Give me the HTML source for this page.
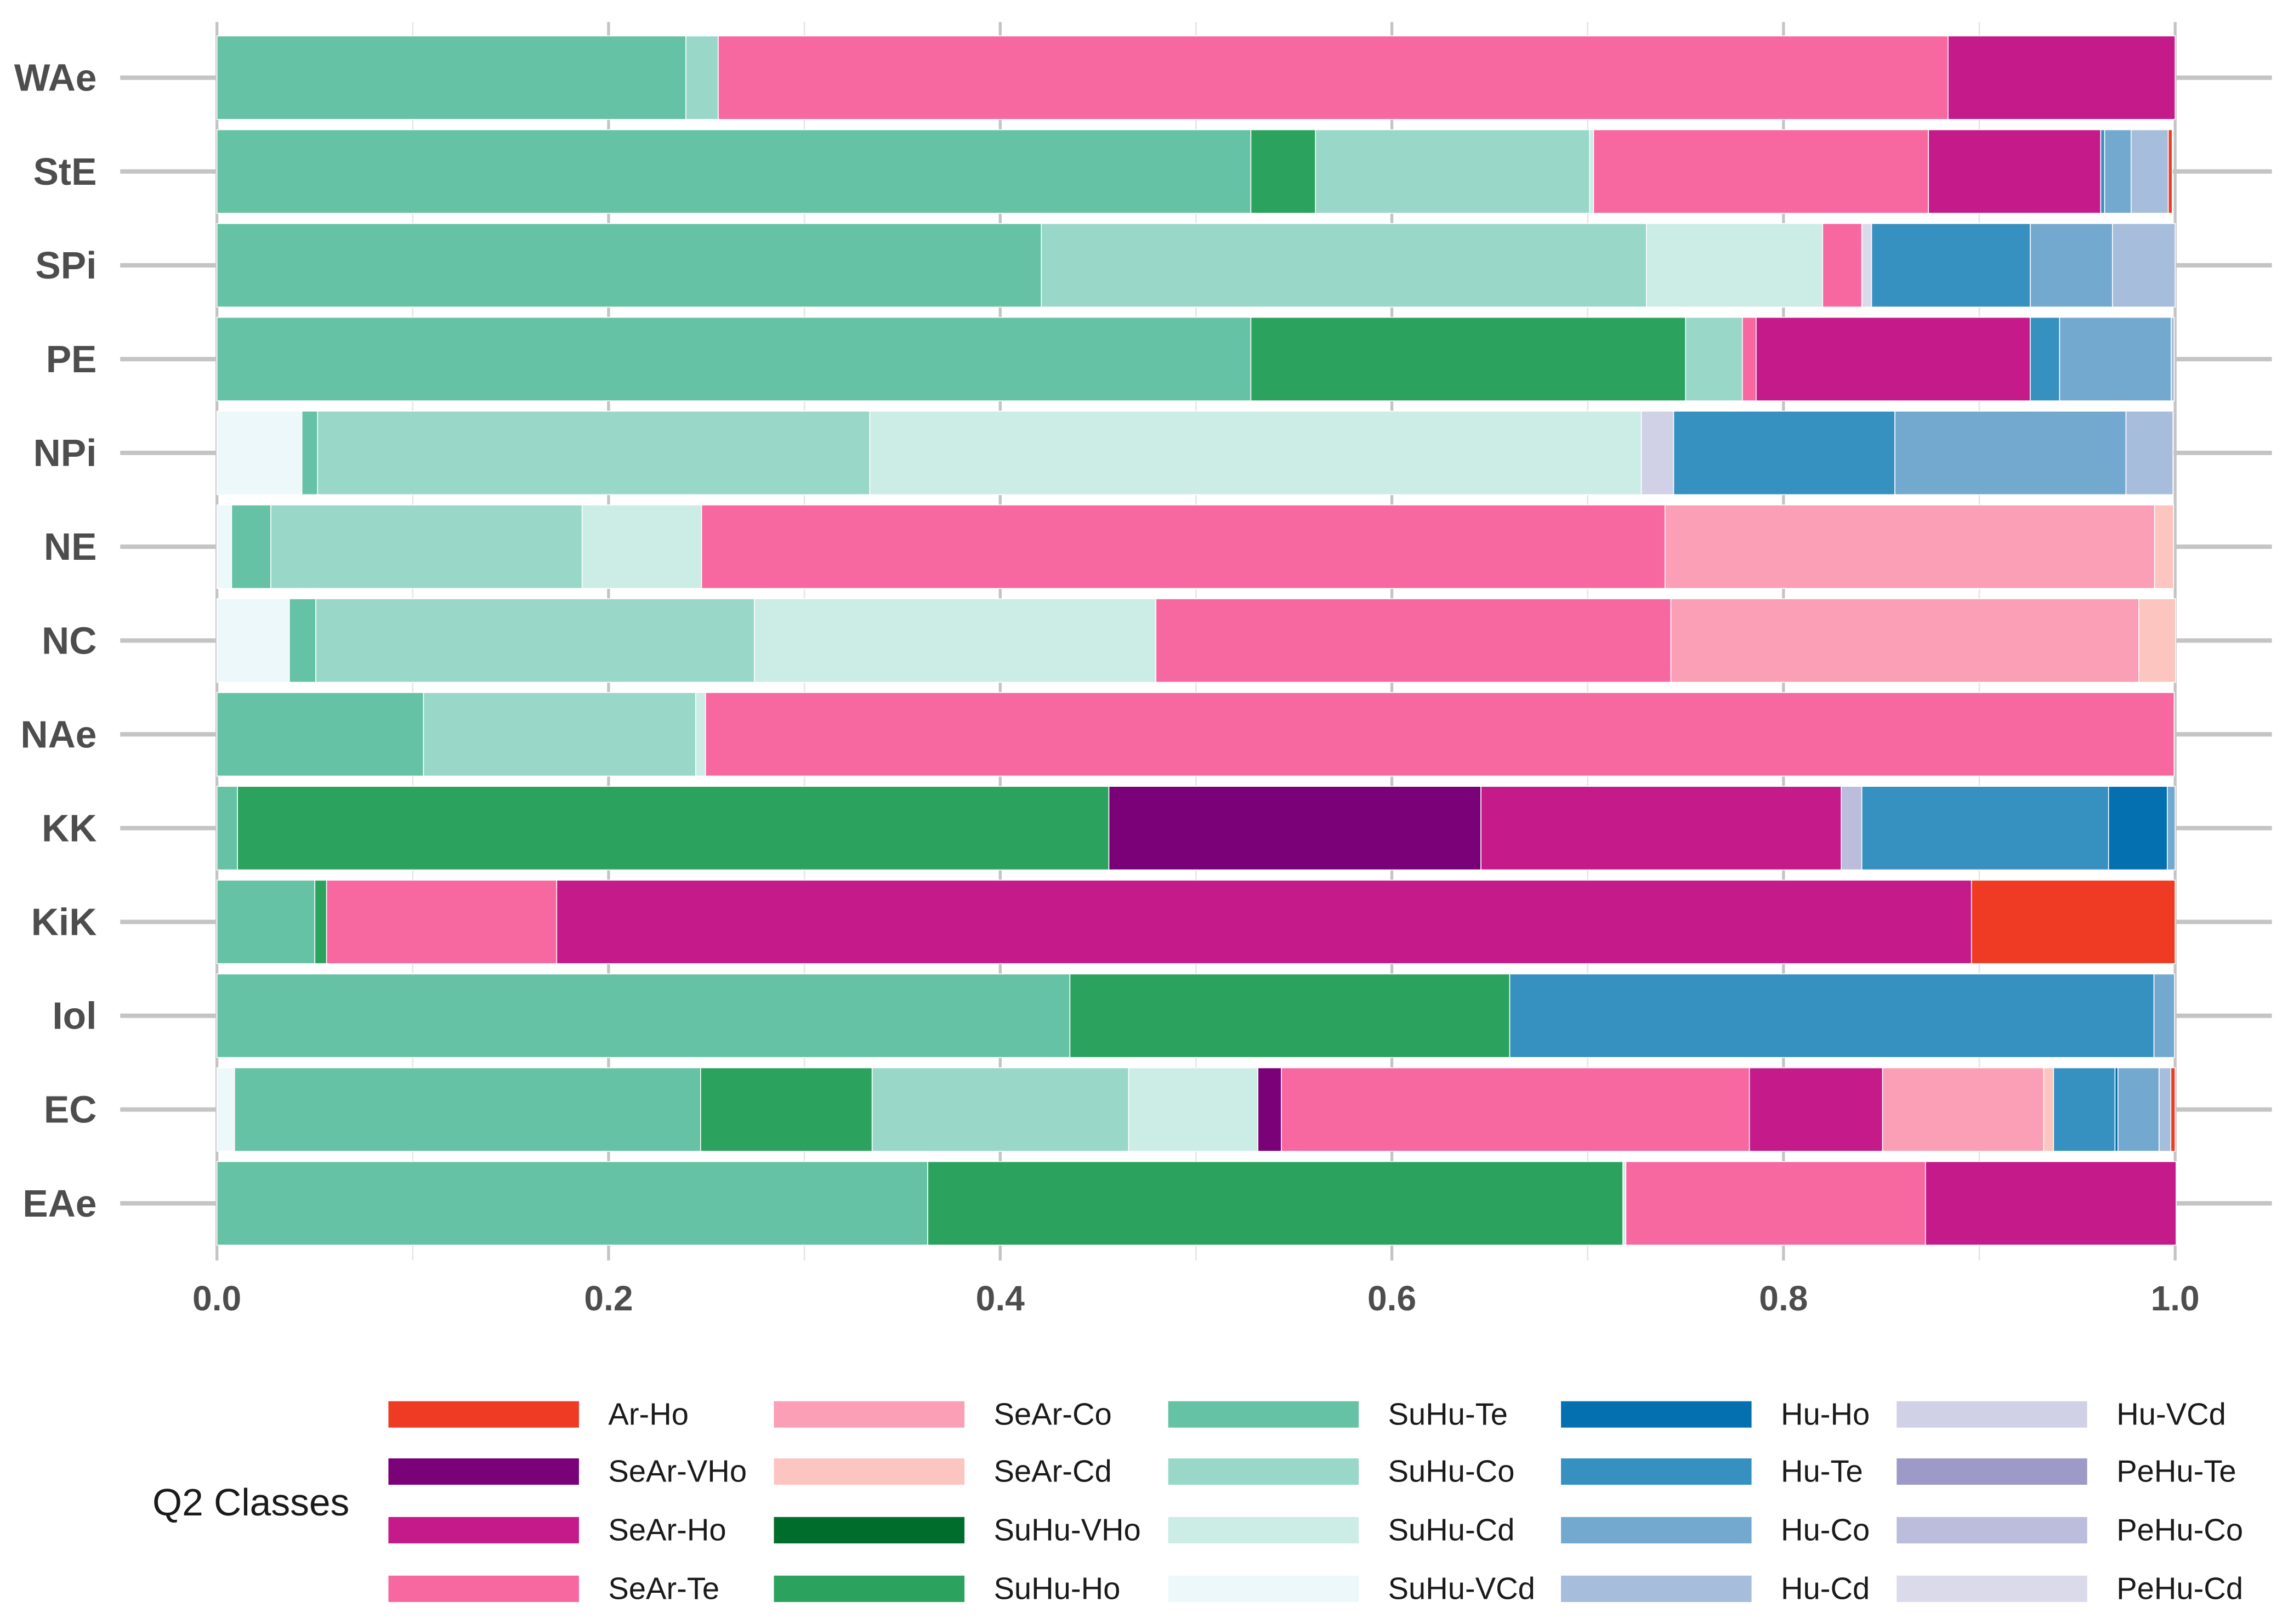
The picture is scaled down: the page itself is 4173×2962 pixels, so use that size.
<!DOCTYPE html>
<html><head><meta charset="utf-8"><style>
html,body{margin:0;padding:0;background:#fff;}
svg{display:block;}
text{font-family:"Liberation Sans",sans-serif;}
</style></head><body>
<svg id="chart" width="4173" height="2962" viewBox="0 0 1561 1108" preserveAspectRatio="none" xmlns="http://www.w3.org/2000/svg">
<g id="grid"></g>
<g id="bars"></g>
<g id="ylabels"></g>
<g id="xlabels"></g>
<g id="legend">
<text x="104" y="1034" font-size="26" fill="#1a1a1a">Q2 Classes</text>
</g>
</svg>
<script>
const regions = ["WAe","StE","SPi","PE","NPi","NE","NC","NAe","KK","KiK","Iol","EC","EAe"];
const segWAe = [["SuHu-Te",.2395],["SuHu-Co",.0165],["SeAr-Te",.628],["SeAr-Ho",.116]];
const segStE = [["SuHu-Te",.528],["SuHu-Ho",.033],["SuHu-Co",.140],["SuHu-Cd",.002],["SeAr-Te",.171],["SeAr-Ho",.088],["Hu-Te",.002],["Hu-Co",.0135],["Hu-Cd",.019],["Ar-Ho",.002]];
const segSPi = [["SuHu-Te",.421],["SuHu-Co",.309],["SuHu-Cd",.090],["SeAr-Te",.020],["PeHu-Cd",.005],["Hu-Te",.081],["Hu-Co",.042],["Hu-Cd",.032]];
const segPE = [["SuHu-Te",.528],["SuHu-Ho",.222],["SuHu-Co",.029],["SeAr-Te",.007],["SeAr-Ho",.140],["Hu-Te",.015],["Hu-Co",.057],["Hu-Cd",.0015]];
const segNPi = [["SuHu-VCd",.0434],["SuHu-Te",.008],["SuHu-Co",.282],["SuHu-Cd",.394],["Hu-VCd",.0165],["Hu-Te",.113],["Hu-Co",.118],["Hu-Cd",.024]];
const segNE = [["SuHu-VCd",.0075],["SuHu-Te",.020],["SuHu-Co",.159],["SuHu-Cd",.061],["SeAr-Te",.492],["SeAr-Co",.250],["SeAr-Cd",.0097]];
const segNC = [["SuHu-VCd",.037],["SuHu-Te",.0135],["SuHu-Co",.224],["SuHu-Cd",.205],["SeAr-Te",.263],["SeAr-Co",.239],["SeAr-Cd",.0187]];
const segNAe = [["SuHu-Te",.1055],["SuHu-Co",.139],["SuHu-Cd",.005],["SeAr-Te",.750]];
const segKK = [["SuHu-Te",.0105],["SuHu-Ho",.445],["SeAr-VHo",.190],["SeAr-Ho",.184],["PeHu-Co",.0105],["Hu-Te",.126],["Hu-Ho",.030],["Hu-Co",.004]];
const segKiK = [["SuHu-Te",.050],["SuHu-Ho",.006],["SeAr-Te",.1175],["SeAr-Ho",.7225],["Ar-Ho",.104]];
const segIol = [["SuHu-Te",.4356],["SuHu-Ho",.2246],["Hu-Te",.329],["Hu-Co",.0105]];
const segEC = [["SuHu-VCd",.009],["SuHu-Te",.238],["SuHu-Ho",.0876],["SuHu-Co",.131],["SuHu-Cd",.066],["SeAr-VHo",.012],["SeAr-Te",.239],["SeAr-Ho",.068],["SeAr-Co",.0823],["SeAr-Cd",.005],["Hu-Te",.0314],["Hu-Ho",.0015],["Hu-Co",.021],["Hu-Cd",.006],["Ar-Ho",.0022]];
const segEAe = [["SuHu-Te",.363],["SuHu-Ho",.355],["SuHu-Cd",.0015],["SeAr-Te",.153],["SeAr-Ho",.128]];
const segments = [segWAe,segStE,segSPi,segPE,segNPi,segNE,segNC,segNAe,segKK,segKiK,segIol,segEC,segEAe];
const xTicks = [0,0.2,0.4,0.6,0.8,1.0];
const xTickLabels = ["0.0","0.2","0.4","0.6","0.8","1.0"];
const legendClasses = ["Ar-Ho","SeAr-VHo","SeAr-Ho","SeAr-Te","SeAr-Co","SeAr-Cd","SuHu-VHo","SuHu-Ho","SuHu-Te","SuHu-Co","SuHu-Cd","SuHu-VCd","Hu-Ho","Hu-Te","Hu-Co","Hu-Cd","Hu-VCd","PeHu-Te","PeHu-Co","PeHu-Cd"];
const colors = {"Ar-Ho":"#ef3b23","SeAr-VHo":"#7a0177","SeAr-Ho":"#c51b8a","SeAr-Te":"#f768a1","SeAr-Co":"#fa9fb5","SeAr-Cd":"#fcc5c0","SuHu-VHo":"#006d2c","SuHu-Ho":"#2ca25f","SuHu-Te":"#66c2a4","SuHu-Co":"#99d8c9","SuHu-Cd":"#ccece6","SuHu-VCd":"#edf8fb","Hu-Ho":"#0570b0","Hu-Te":"#3690c0","Hu-Co":"#74a9cf","Hu-Cd":"#a6bddb","Hu-VCd":"#d0d1e6","PeHu-Te":"#9e9ac8","PeHu-Co":"#bcbddc","PeHu-Cd":"#dadaeb"};

const NS="http://www.w3.org/2000/svg";
const X0=148,X1=1484;
const xs=v=>X0+v*(X1-X0);
const ys=i=>53+i*64;
function mk(tag,attrs,parent){const e=document.createElementNS(NS,tag);for(const k in attrs)e.setAttribute(k,attrs[k]);parent.appendChild(e);return e;}
const grid=document.getElementById('grid'),bars=document.getElementById('bars'),yl=document.getElementById('ylabels'),xl=document.getElementById('xlabels'),lg=document.getElementById('legend');
for(let t=0;t<=10;t++){
  const l=mk('line',{x1:xs(t/10),x2:xs(t/10),y1:15,y2:860,stroke:t%2?'#e6e6e6':'#c4c4c4','stroke-width':t%2?1:2},grid);
  
  
}
regions.forEach((r,i)=>{
  const h=mk('line',{x1:82,x2:1550,y1:ys(i),y2:ys(i),stroke:'#c4c4c4','stroke-width':3},grid);
  
  
  const t=mk('text',{x:66,y:ys(i)+9,'text-anchor':'end','font-size':26,'font-weight':'bold',fill:'#4d4d4d'},yl);
  t.textContent=r;
  
  
  let acc=0;
  segments[i].forEach(([c,v])=>{
    const rc=mk('rect',{x:xs(acc),y:ys(i)-28.5,width:xs(acc+v)-xs(acc),height:57,fill:colors[c],stroke:'#fff','stroke-width':0.6},bars);
    
    
    acc+=v;
  });
});
xTicks.forEach((v,i)=>{
  const t=mk('text',{x:xs(v),y:894,'text-anchor':'middle','font-size':24,'font-weight':'bold',fill:'#4d4d4d'},xl);
  t.textContent=xTickLabels[i];
  
  
});
const colSw=[265,528,797,1065,1294],colTx=[415,678,947,1215,1444],rowY=[965,1004,1044,1084];
legendClasses.forEach((c,k)=>{
  const col=Math.floor(k/4),row=k%4;
  const s=mk('rect',{x:colSw[col],y:rowY[row]-9,width:130,height:18,fill:colors[c]},lg);
  
  
  const t=mk('text',{x:colTx[col],y:rowY[row]+7,'font-size':21,fill:'#1a1a1a'},lg);
  t.textContent=c;
  
  
});
</script>
</body></html>
